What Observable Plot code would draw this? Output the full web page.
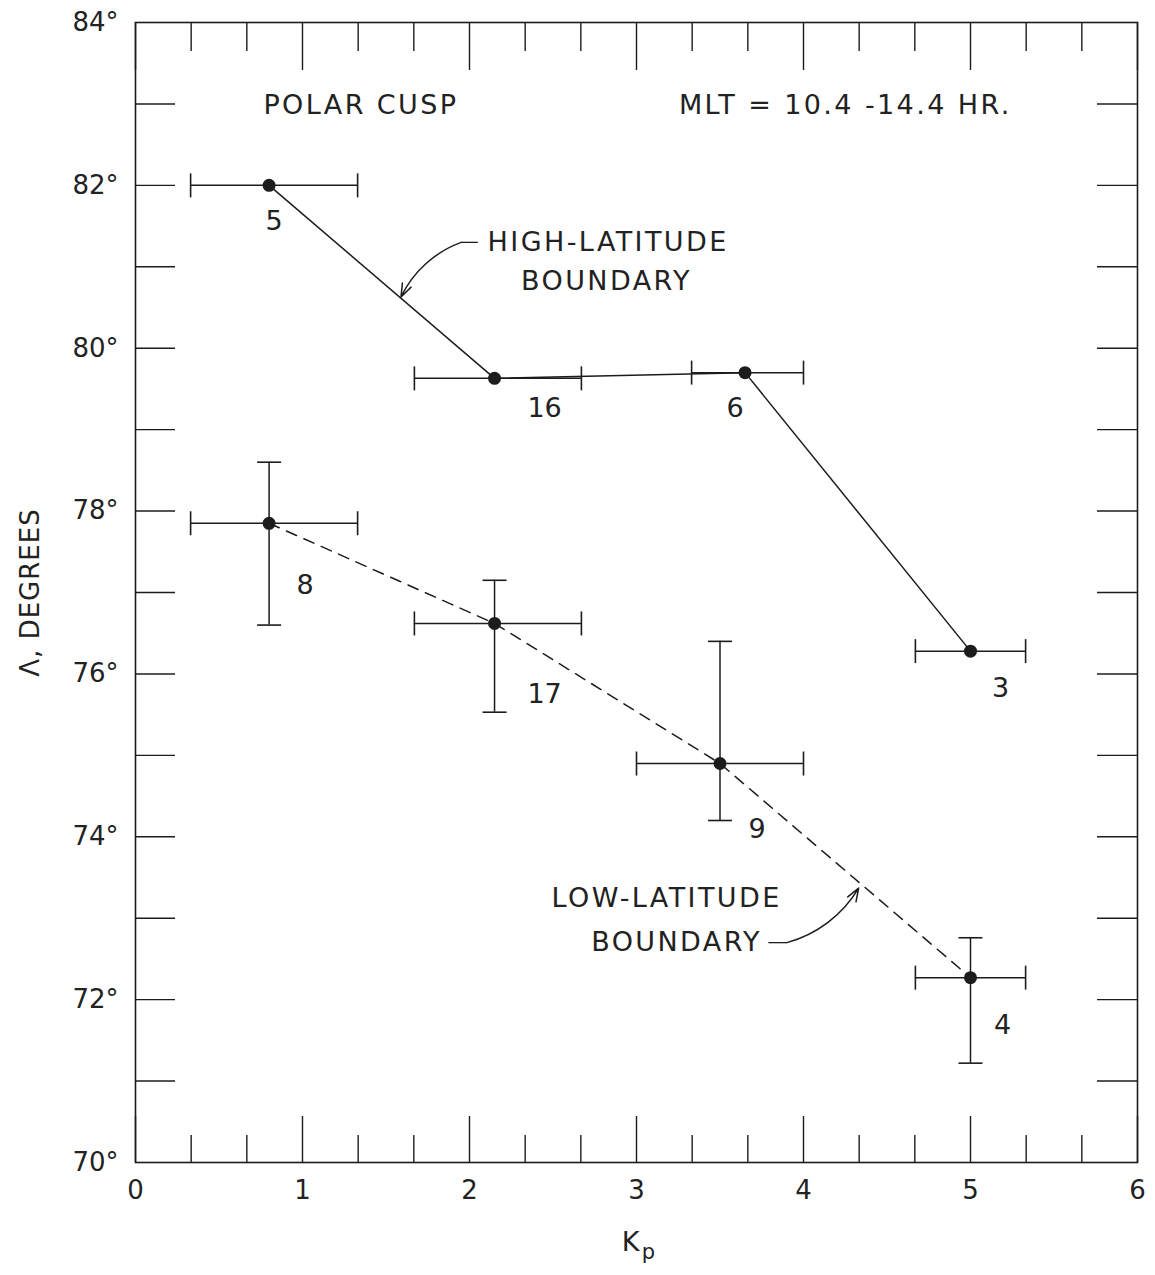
<!DOCTYPE html>
<html><head><meta charset="utf-8">
<script src="https://cdn.jsdelivr.net/npm/d3@7"></script>
<script src="https://cdn.jsdelivr.net/npm/@observablehq/plot@0.6"></script>
<style>
body{margin:0;background:#fff}
svg{display:block}
svg .anno text{letter-spacing:2.4px}
svg .ylab text{letter-spacing:1px}
</style>
</head><body><div id="chart"></div>
<script>
// ---- data ----
const highKp    = [0.8, 2.15, 3.65, 5.0];
const highLat   = [82.0, 79.63, 79.7, 76.28];
const highKpLo  = [0.33, 1.67, 3.33, 4.67];
const highKpHi  = [1.33, 2.67, 4.0, 5.33];
const highN     = [5, 16, 6, 3];

const lowKp     = [0.8, 2.15, 3.5, 5.0];
const lowLat    = [77.85, 76.62, 74.9, 72.27];
const lowKpLo   = [0.33, 1.67, 3.0, 4.67];
const lowKpHi   = [1.33, 2.67, 4.0, 5.33];
const lowLatLo  = [76.6, 75.53, 74.2, 71.22];
const lowLatHi  = [78.6, 77.15, 76.4, 72.76];
const lowN      = [8, 17, 9, 4];

const xMajor = [0, 1, 2, 3, 4, 5, 6];
const xMinor = [1/3, 2/3, 4/3, 5/3, 7/3, 8/3, 10/3, 11/3, 13/3, 14/3, 16/3, 17/3];
const yTicks = [71, 72, 73, 74, 75, 76, 77, 78, 79, 80, 81, 82, 83];
const yLabels = [70, 72, 74, 76, 78, 80, 82, 84];

const annoText = ["POLAR CUSP", "MLT = 10.4 -14.4 HR.", "HIGH-LATITUDE", "BOUNDARY", "LOW-LATITUDE", "BOUNDARY"];
const annoKp   = [1.35, 4.25, 2.83, 2.82, 3.18, 3.24];
const annoLat  = [82.98, 82.98, 81.30, 80.82, 73.24, 72.70];

// leader lines for the boundary annotations
const leadDashKp1 = [2.05, 3.79], leadDashKp2 = [1.95, 3.90], leadDashLat = [81.30, 72.70];
const leadTipKp = [1.59, 4.33], leadTipLat = [80.63, 73.37];

// ---- layout ----
const W = 1155, H = 1275, mL = 135, mR = 18, mT = 22, mB = 113;
const fw = W - mL - mR, fh = H - mT - mB;
const ink = "#1c1c1c";
// label offsets (px) for the sample counts
const highOff = [[5, 36], [50, 30], [-10, 36], [30, 37]];
const lowOff  = [[36, 62], [50, 71], [37, 66], [32, 48]];

const high = highKp.map((k, i) => ({kp: k, lat: highLat[i], lo: highKpLo[i], hi: highKpHi[i], n: highN[i]}));
const low = lowKp.map((k, i) => ({kp: k, lat: lowLat[i], lo: lowKpLo[i], hi: lowKpHi[i], latLo: lowLatLo[i], latHi: lowLatHi[i], n: lowN[i]}));
const anno = annoText.map((t, i) => ({t, kp: annoKp[i], lat: annoLat[i]}));
const leads = leadDashLat.map((l, i) => ({x1: leadDashKp1[i], x2: leadDashKp2[i], y: l, tx: leadTipKp[i], ty: leadTipLat[i]}));

const vbar = {draw(ctx, size) { const r = Math.sqrt(size / Math.PI); ctx.moveTo(0, -r); ctx.lineTo(0, r); }};
const hbar = {draw(ctx, size) { const r = Math.sqrt(size / Math.PI); ctx.moveTo(-r, 0); ctx.lineTo(r, 0); }};

const countLabels = (rows, offs) => rows.map((d, i) =>
  Plot.text([d], {x: "kp", y: "lat", text: r => String(r.n), dx: offs[i][0], dy: offs[i][1], fontSize: 27, fill: "#222"}));

const chart = Plot.plot({
  width: W, height: H,
  marginLeft: mL, marginRight: mR, marginTop: mT, marginBottom: mB,
  x: {domain: [0, 6]},
  y: {domain: [70, 84]},
  style: {fontFamily: "DejaVu Sans", fontSize: "25px", color: "#222", background: "#fff"},
  marks: [
    Plot.frame({stroke: ink, strokeWidth: 1.6}),
    // inward ticks
    Plot.tickX(xMajor, {x: d => d, insetTop: fh - 46, stroke: ink, strokeWidth: 1.4}),
    Plot.tickX(xMajor, {x: d => d, insetBottom: fh - 48, stroke: ink, strokeWidth: 1.4}),
    Plot.tickX(xMinor, {x: d => d, insetTop: fh - 27, stroke: ink, strokeWidth: 1.4}),
    Plot.tickX(xMinor, {x: d => d, insetBottom: fh - 29, stroke: ink, strokeWidth: 1.4}),
    Plot.tickY(yTicks, {y: d => d, insetRight: fw - 40, stroke: ink, strokeWidth: 1.4}),
    Plot.tickY(yTicks, {y: d => d, insetLeft: fw - 40, stroke: ink, strokeWidth: 1.4}),
    Plot.axisX({ticks: xMajor, tickSize: 0, tickPadding: 18, tickFormat: d => String(d), label: null, fontSize: 26}),
    Plot.axisY({ticks: yLabels, tickSize: 0, tickPadding: 17, tickFormat: d => d + "°", label: null, fontSize: 26}),
    // axis titles
    Plot.text(["K"], {x: 3, frameAnchor: "bottom", dy: 88, dx: -6, text: d => d, fontSize: 27}),
    Plot.text(["p"], {x: 3, frameAnchor: "bottom", dy: 96, dx: 12, text: d => d, fontSize: 21}),
    Plot.text(["Λ, DEGREES"], {frameAnchor: "left", textAnchor: "middle", dx: -105, rotate: -90, text: d => d, fontSize: 26, className: "ylab"}),
    // high-latitude boundary
    Plot.line(high, {x: "kp", y: "lat", stroke: ink, strokeWidth: 1.5}),
    Plot.ruleY(high, {y: "lat", x1: "lo", x2: "hi", stroke: ink, strokeWidth: 1.5}),
    Plot.dot(high, {x: "lo", y: "lat", symbol: vbar, r: 12, stroke: ink, strokeWidth: 1.6}),
    Plot.dot(high, {x: "hi", y: "lat", symbol: vbar, r: 12, stroke: ink, strokeWidth: 1.6}),
    Plot.dot(high, {x: "kp", y: "lat", r: 6.5, fill: ink}),
    ...countLabels(high, highOff),
    // low-latitude boundary
    Plot.line(low, {x: "kp", y: "lat", stroke: ink, strokeWidth: 1.5, strokeDasharray: "11,8"}),
    Plot.ruleY(low, {y: "lat", x1: "lo", x2: "hi", stroke: ink, strokeWidth: 1.5}),
    Plot.ruleX(low, {x: "kp", y1: "latLo", y2: "latHi", stroke: ink, strokeWidth: 1.5}),
    Plot.dot(low, {x: "lo", y: "lat", symbol: vbar, r: 12, stroke: ink, strokeWidth: 1.6}),
    Plot.dot(low, {x: "hi", y: "lat", symbol: vbar, r: 12, stroke: ink, strokeWidth: 1.6}),
    Plot.dot(low, {x: "kp", y: "latLo", symbol: hbar, r: 12, stroke: ink, strokeWidth: 1.6}),
    Plot.dot(low, {x: "kp", y: "latHi", symbol: hbar, r: 12, stroke: ink, strokeWidth: 1.6}),
    Plot.dot(low, {x: "kp", y: "lat", r: 6.5, fill: ink}),
    ...countLabels(low, lowOff),
    // annotations
    Plot.text(anno, {x: "kp", y: "lat", text: "t", fontSize: 27, fill: "#222", className: "anno"}),
    Plot.link(leads, {x1: "x1", x2: "x2", y1: "y", y2: "y", stroke: ink, strokeWidth: 1.3}),
    Plot.arrow(leads, {x1: "x2", y1: "y", x2: "tx", y2: "ty", bend: -22, stroke: ink, strokeWidth: 1.5, headLength: 14, headAngle: 40})
  ]
});
document.getElementById("chart").appendChild(chart);
</script>
</body></html>
